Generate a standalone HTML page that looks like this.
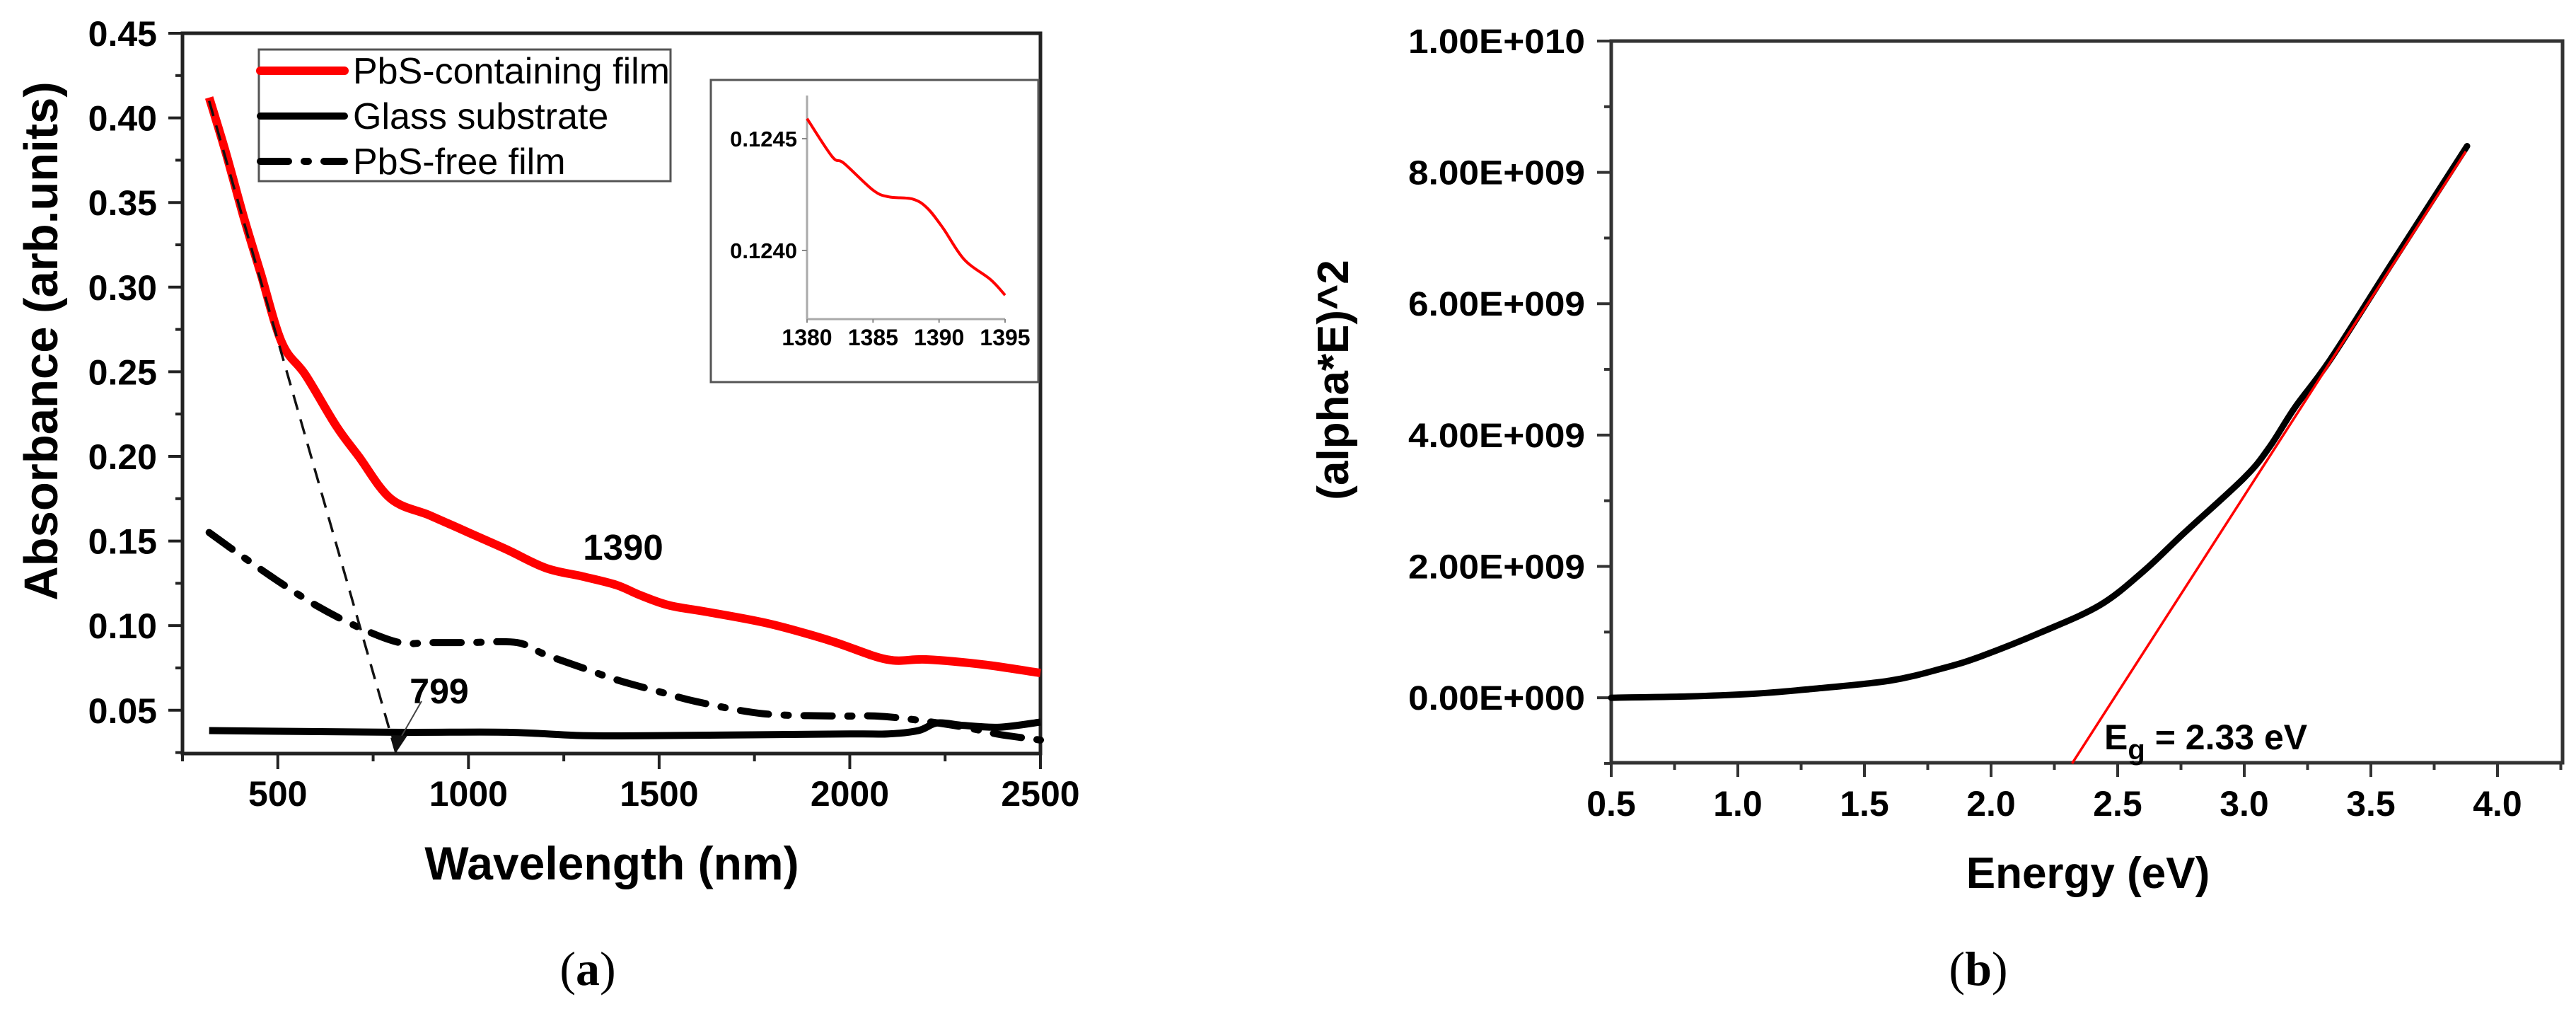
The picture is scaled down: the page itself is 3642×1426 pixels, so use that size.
<!DOCTYPE html>
<html><head><meta charset="utf-8"><style>
html,body{margin:0;padding:0;background:#fff;}
svg{display:block;font-family:"Liberation Sans",Arial,sans-serif;}
</style></head><body>
<svg id="fig" width="3642" height="1426" viewBox="0 0 3642 1426" xmlns="http://www.w3.org/2000/svg">
<rect x="0" y="0" width="3642" height="1426" fill="#fff"/>
<g id="chartA"></g>
<g id="chartB"></g>
</svg>
<script>
// ---- Chart (a) data ----
const aXTicks = [500, 1000, 1500, 2000, 2500];
const aYTicks = [0.05, 0.10, 0.15, 0.20, 0.25, 0.30, 0.35, 0.40, 0.45];
const pbsWl  = [320, 363, 411, 454, 511, 573, 653, 712, 796, 900, 1000, 1100, 1203, 1300, 1388, 1450, 1526, 1628, 1791, 1950, 2097, 2200, 2350, 2500];
const pbsAbs = [0.412, 0.380, 0.341, 0.309, 0.267, 0.248, 0.218, 0.200, 0.175, 0.165, 0.155, 0.145, 0.134, 0.129, 0.124, 0.118, 0.112, 0.108, 0.101, 0.091, 0.080, 0.080, 0.077, 0.072];
const glassWl  = [320, 800, 1100, 1300, 1500, 2000, 2100, 2180, 2230, 2300, 2393, 2500];
const glassAbs = [0.038, 0.037, 0.037, 0.035, 0.035, 0.036, 0.036, 0.038, 0.0425, 0.041, 0.040, 0.043];
const freeWl  = [320, 400, 496, 600, 712, 819, 900, 1000, 1127, 1200, 1300, 1388, 1500, 1600, 1772, 1961, 2066, 2166, 2300, 2393, 2500];
const freeAbs = [0.155, 0.142, 0.127, 0.112, 0.099, 0.090, 0.090, 0.090, 0.090, 0.083, 0.075, 0.068, 0.061, 0.055, 0.048, 0.0466, 0.0466, 0.0445, 0.040, 0.0357, 0.0324];
const tangentWl  = [320, 810];
const tangentAbs = [0.41, 0.025];
const insetWl  = [1380, 1381.9, 1382.8, 1385, 1386.2, 1388, 1389.1, 1390.3, 1391.9, 1393.9, 1395];
const insetAbs = [0.12459, 0.12442, 0.12439, 0.12427, 0.12424, 0.12423, 0.12419, 0.1241, 0.12396, 0.12387, 0.1238];
const insetXTicks = [1380, 1385, 1390, 1395];
const insetYTicks = [0.1240, 0.1245];
// ---- Chart (b) data ----
const bXTicks = [0.5, 1.0, 1.5, 2.0, 2.5, 3.0, 3.5, 4.0];
const bYTicks = [0, 2e9, 4e9, 6e9, 8e9, 1e10];
const bYLabels = ["0.00E+000", "2.00E+009", "4.00E+009", "6.00E+009", "8.00E+009", "1.00E+010"];
const taucE = [0.5, 0.8, 1.06, 1.28, 1.6, 1.81, 1.96, 2.2, 2.43, 2.6, 2.76, 3.0, 3.1, 3.2, 3.34, 3.58, 3.88];
const taucV = [0, 0.02e9, 0.06e9, 0.13e9, 0.26e9, 0.45e9, 0.63e9, 1.0e9, 1.41e9, 1.92e9, 2.5e9, 3.35e9, 3.82e9, 4.42e9, 5.15e9, 6.6e9, 8.4e9];
const fitE = [2.32, 3.875];
const fitV = [-1e9, 8.32e9];

const NS = "http://www.w3.org/2000/svg";
function mk(parent, tag, attrs, text) {
  const el = document.createElementNS(NS, tag);
  for (const k in attrs) el.setAttribute(k, attrs[k]);
  if (text !== undefined) el.textContent = text;
  parent.appendChild(el);
  return el;
}
function pts(xs, ys, fx, fy) { return xs.map((x, i) => fx(x).toFixed(1) + "," + fy(ys[i]).toFixed(1)).join(" "); }
function smooth(xs, ys, fx, fy) {
  const P = xs.map((x, i) => [fx(x), fy(ys[i])]);
  let d = "M" + P[0][0].toFixed(1) + "," + P[0][1].toFixed(1);
  for (let i = 0; i < P.length - 1; i++) {
    const p0 = P[Math.max(0, i - 1)], p1 = P[i], p2 = P[i + 1], p3 = P[Math.min(P.length - 1, i + 2)];
    const c1 = [p1[0] + (p2[0] - p0[0]) / 6, p1[1] + (p2[1] - p0[1]) / 6];
    const c2 = [p2[0] - (p3[0] - p1[0]) / 6, p2[1] - (p3[1] - p1[1]) / 6];
    d += " C" + c1.map(v => v.toFixed(1)).join(",") + " " + c2.map(v => v.toFixed(1)).join(",") + " " + p2[0].toFixed(1) + "," + p2[1].toFixed(1);
  }
  return d;
}

// ===== Chart (a) =====
const A = document.getElementById("chartA");
const aL = 258, aR = 1471, aT = 47, aB = 1065;
const axMin = 250, axMax = 2500, ayMin = 0.0244, ayMax = 0.45;
const ax = v => aL + (v - axMin) / (axMax - axMin) * (aR - aL);
const ay = v => aB - (v - ayMin) / (ayMax - ayMin) * (aB - aT);

let e;
e = mk(A, "rect", {x: aL, y: aT, width: aR - aL, height: aB - aT, fill: "none", stroke: "#222", "stroke-width": 5});


for (let k = 1; k <= 18; k++) {
  const v = k * 0.025, major = k % 2 === 0;
  e = mk(A, "line", {x1: aL, x2: aL - (major ? 20 : 10), y1: ay(v), y2: ay(v), stroke: "#222", "stroke-width": 4});
  
  
}
aYTicks.forEach(v => {
  e = mk(A, "text", {x: 222, y: ay(v) + 18, "text-anchor": "end", "font-size": 50, "font-weight": "bold"}, v.toFixed(2));
  
  
});
for (let v = 250; v <= 2500; v += 250) {
  const major = v % 500 === 0;
  e = mk(A, "line", {x1: ax(v), x2: ax(v), y1: aB, y2: aB + (major ? 22 : 11), stroke: "#222", "stroke-width": 4});
  
  
}
aXTicks.forEach(v => {
  e = mk(A, "text", {x: ax(v), y: 1139, "text-anchor": "middle", "font-size": 50, "font-weight": "bold"}, String(v));
  
  
});
e = mk(A, "text", {x: 865, y: 1243, "text-anchor": "middle", "font-size": 66, "font-weight": "bold"}, "Wavelength (nm)");


e = mk(A, "text", {x: 0, y: 0, transform: "translate(81,482) rotate(-90)", "text-anchor": "middle", "font-size": 67, "font-weight": "bold"}, "Absorbance (arb.units)");



e = mk(A, "path", {d: smooth(glassWl, glassAbs, ax, ay), fill: "none", stroke: "#000", "stroke-width": 10, "stroke-linejoin": "round"});


e = mk(A, "path", {d: smooth(freeWl, freeAbs, ax, ay), fill: "none", stroke: "#000", "stroke-width": 10, "stroke-dasharray": "40 22 6 22", "stroke-linecap": "round", "stroke-linejoin": "round"});


e = mk(A, "path", {d: smooth(pbsWl, pbsAbs, ax, ay), fill: "none", stroke: "#ff0000", "stroke-width": 12, "stroke-linejoin": "round"});


e = mk(A, "polyline", {points: pts(tangentWl, tangentAbs, ax, ay), fill: "none", stroke: "#111", "stroke-width": 3.5, "stroke-dasharray": "22 14"});



const tipX = ax(tangentWl[1]), tipY = ay(tangentAbs[1]);
e = mk(A, "line", {x1: 596, y1: 991, x2: tipX + 6, y2: tipY - 20, stroke: "#444", "stroke-width": 2});


e = mk(A, "polygon", {points: (tipX - 7) + "," + (tipY - 24) + " " + (tipX + 16) + "," + (tipY - 24) + " " + tipX + "," + tipY, fill: "#111"});


e = mk(A, "text", {x: 621, y: 994, "text-anchor": "middle", "font-size": 50, "font-weight": "bold"}, "799");


e = mk(A, "text", {x: 881, y: 791, "text-anchor": "middle", "font-size": 51, "font-weight": "bold"}, "1390");



const lg = mk(A, "g", {});


e = mk(lg, "rect", {x: 366, y: 70, width: 582, height: 186, fill: "#fff", stroke: "#555", "stroke-width": 3});


const legItems = [["PbS-containing film", "#ff0000", null, 12], ["Glass substrate", "#000", null, 10], ["PbS-free film", "#000", "40 22 6 22", 10]];
legItems.forEach((it, i) => {
  const y = 100 + i * 64;
  const g = mk(lg, "g", {});
  
  
  const la = {x1: 368, x2: 487, y1: y, y2: y, stroke: it[1], "stroke-width": it[3], "stroke-linecap": "round"};
  if (it[2]) la["stroke-dasharray"] = it[2];
  mk(g, "line", la);
  mk(g, "text", {x: 499, y: y + 18, "font-size": 52}, it[0]);
});

const ins = mk(A, "g", {});


e = mk(ins, "rect", {x: 1005, y: 113, width: 463, height: 427, fill: "#fff", stroke: "#555", "stroke-width": 3});


const iL = 1141, iR = 1421, iT = 135, iB = 451;
const ix = v => iL + (v - 1380) / 15 * (iR - iL);
const iy = v => 196 + (0.1245 - v) / 0.0005 * 158;
mk(ins, "line", {x1: iL, x2: iL, y1: iT, y2: iB, stroke: "#aaa", "stroke-width": 3});
mk(ins, "line", {x1: iL, x2: iR, y1: iB, y2: iB, stroke: "#aaa", "stroke-width": 3});
insetYTicks.forEach(v => {
  mk(ins, "line", {x1: iL, x2: iL - 7, y1: iy(v), y2: iy(v), stroke: "#888", "stroke-width": 2});
  e = mk(ins, "text", {x: 1127, y: iy(v) + 11, "text-anchor": "end", "font-size": 31, "font-weight": "bold"}, v.toFixed(4));
  
  
});
insetXTicks.forEach(v => {
  mk(ins, "line", {x1: ix(v), x2: ix(v), y1: iB, y2: iB + 5, stroke: "#888", "stroke-width": 2});
  e = mk(ins, "text", {x: ix(v), y: 488, "text-anchor": "middle", "font-size": 32, "font-weight": "bold"}, String(v));
  
  
});
e = mk(ins, "path", {d: smooth(insetWl, insetAbs, ix, iy), fill: "none", stroke: "#ff0000", "stroke-width": 4, "stroke-linejoin": "round"});



e = mk(A, "text", {x: 831, y: 1392, "text-anchor": "middle", "font-size": 68, "font-family": "Liberation Serif, serif"});


e.innerHTML = '(<tspan font-weight="bold">a</tspan>)';

// ===== Chart (b) =====
const B = document.getElementById("chartB");
const bL = 2278, bR = 3623, bT = 58, bB = 1078;
const bxMin = 0.5, bxMax = 4.257, byMin = -0.99e9, byMax = 1e10;
const bx = v => bL + (v - bxMin) / (bxMax - bxMin) * (bR - bL);
const by = v => bB - (v - byMin) / (byMax - byMin) * (bB - bT);
e = mk(B, "rect", {x: bL, y: bT, width: bR - bL, height: bB - bT, fill: "none", stroke: "#333", "stroke-width": 5});


for (let k = -1; k <= 10; k++) {
  const v = k * 1e9, major = k % 2 === 0;
  e = mk(B, "line", {x1: bL, x2: bL - (major ? 20 : 10), y1: by(v), y2: by(v), stroke: "#333", "stroke-width": 4});
  
  
}
bYTicks.forEach((v, i) => {
  e = mk(B, "text", {x: 2241, y: by(v) + 17, "text-anchor": "end", "font-size": 48, "font-weight": "bold", textLength: 250, lengthAdjust: "spacingAndGlyphs"}, bYLabels[i]);
  
  
});
for (let k = 0; k <= 15; k++) {
  const v = 0.5 + k * 0.25, major = k % 2 === 0;
  e = mk(B, "line", {x1: bx(v), x2: bx(v), y1: bB, y2: bB + (major ? 20 : 10), stroke: "#333", "stroke-width": 4});
  
  
}
bXTicks.forEach(v => {
  e = mk(B, "text", {x: bx(v), y: 1153, "text-anchor": "middle", "font-size": 50, "font-weight": "bold"}, v.toFixed(1));
  
  
});
e = mk(B, "text", {x: 2952, y: 1255, "text-anchor": "middle", "font-size": 62, "font-weight": "bold"}, "Energy (eV)");


e = mk(B, "text", {x: 0, y: 0, transform: "translate(1906,537) rotate(-90)", "text-anchor": "middle", "font-size": 62, "font-weight": "bold"}, "(alpha*E)^2");



e = mk(B, "path", {d: smooth(taucE, taucV, bx, by), fill: "none", stroke: "#000", "stroke-width": 9, "stroke-linejoin": "round", "stroke-linecap": "round"});


e = mk(B, "polyline", {points: pts(fitE, fitV, bx, by), fill: "none", stroke: "#ff0000", "stroke-width": 3.5});


e = mk(B, "text", {x: 2975, y: 1059, "font-size": 50, "font-weight": "bold"});


e.innerHTML = 'E<tspan font-size="40" dy="14">g</tspan><tspan dy="-14"> = 2.33 eV</tspan>';

e = mk(B, "text", {x: 2797, y: 1392, "text-anchor": "middle", "font-size": 68, "font-family": "Liberation Serif, serif"});


e.innerHTML = '(<tspan font-weight="bold">b</tspan>)';
</script>
</body></html>
